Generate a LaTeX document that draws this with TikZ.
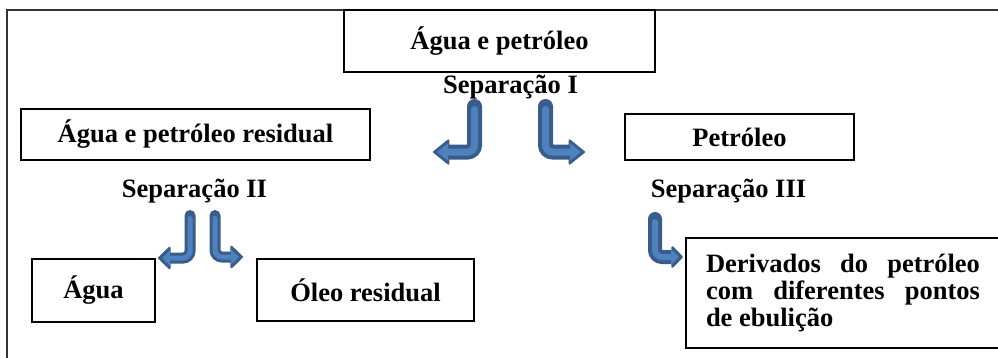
\documentclass[tikz,border=0pt]{standalone}
\usepackage{fontspec}
\setmainfont{Liberation Serif}
\usetikzlibrary{arrows.meta}
\definecolor{arrowedge}{RGB}{56,93,138}
\definecolor{arrowblue}{RGB}{79,129,189}
\tikzset{
  every node/.style={font=\fontsize{26.5}{27}\selectfont\bfseries},
  box/.style={draw, line width=1.1pt, inner sep=0pt},
  seplabel/.style={anchor=base},
  frame/.style={draw=black!80, line width=2pt},
  arrowout/.style={draw=arrowedge, line width=#1, rounded corners=7pt, line cap=round},
  arrowin/.style={draw=arrowblue, line width=#1, rounded corners=7pt, line cap=round, shorten <=3pt, shorten >=4pt}
}
\begin{document}
\begin{tikzpicture}[x=1pt, y=1pt]
        \useasboundingbox (0,0) rectangle (998,357);
        
        \draw[frame] (1005,347) -- (7,347) -- (7,-5); % outer frame
        
        \node[box, minimum width=311, minimum height=62] (mix) at (499.5,316) {Água e petróleo};
        \node[seplabel] (sepI) at (510.5,264) {Separação I};
        \node[box, minimum width=349, minimum height=51] (residual) at (195.5,222.5) {Água e petróleo residual};
        \node[box, minimum width=229, minimum height=46] (petroleo) at (739.5,220) {Petróleo};
        \node[seplabel] (sepII) at (194.5,160) {Separação II};
        \node[seplabel] (sepIII) at (728.5,160) {Separação III};
        \node[box, minimum width=123, minimum height=63] (agua) at (93.5,66.5) {Água};
        \node[box, minimum width=217, minimum height=62] (oleo) at (365.5,67) {Óleo residual};
        \node[box, minimum height=110, inner xsep=20pt, text width=274pt, align=justify] (derivados) at (843,64)
          {\baselineskip=27pt\hyphenpenalty=10000 Derivados do petróleo\linebreak com diferentes pontos\linebreak de ebulição};
        
        \coordinate (aI) at (474.5,250.5); % left arrow, Separacao I
        \coordinate (bI) at (433,205);
        \coordinate (cI) at (545.5,250.5); % right arrow, Separacao I
        \coordinate (dI) at (585,205);
        \coordinate (aII) at (190,141.5); % Separacao II
        \coordinate (bII) at (158,99);
        \coordinate (cII) at (215,141.5);
        \coordinate (dII) at (243,100);
        \coordinate (aIII) at (655,138); % Separacao III
        \coordinate (bIII) at (683,100);
        
        \draw[arrowout=15pt, -{Triangle[width=27pt, length=17pt, line width=2pt, round]}] (aI) |- (bI);
        \draw[arrowin=7pt, -{Triangle[width=17pt, length=11pt, line width=1pt]}] (aI) |- (bI);
        \draw[arrowout=15pt, -{Triangle[width=27pt, length=17pt, line width=2pt, round]}] (cI) |- (dI);
        \draw[arrowin=7pt, -{Triangle[width=17pt, length=11pt, line width=1pt]}] (cI) |- (dI);
        
        \draw[arrowout=11pt, -{Triangle[width=25pt, length=13pt, line width=2pt, round]}] (aII) |- (bII);
        \draw[arrowin=5pt, -{Triangle[width=15pt, length=8pt, line width=1pt]}] (aII) |- (bII);
        \draw[arrowout=11pt, -{Triangle[width=25pt, length=13pt, line width=2pt, round]}] (cII) |- (dII);
        \draw[arrowin=5pt, -{Triangle[width=15pt, length=8pt, line width=1pt]}] (cII) |- (dII);
        
        \draw[arrowout=14pt, -{Triangle[width=24pt, length=12pt, line width=2pt, round]}] (aIII) |- (bIII);
        \draw[arrowin=6pt, -{Triangle[width=15pt, length=8pt, line width=1pt]}] (aIII) |- (bIII);
        
\end{tikzpicture}
\end{document}
